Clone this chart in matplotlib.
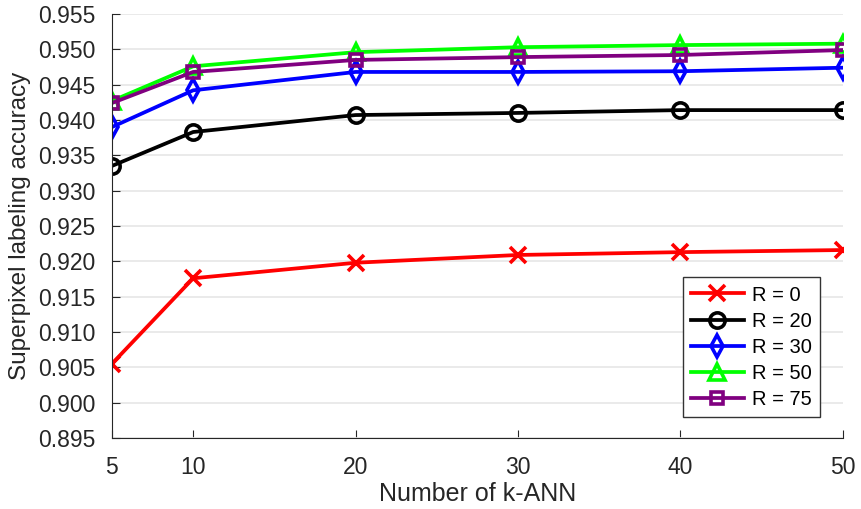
import matplotlib
matplotlib.use("Agg")
import matplotlib.pyplot as plt

plt.rcParams['font.family'] = ['Liberation Sans', 'DejaVu Sans']

# k-ANN values and accuracies per R
k_ann = [5, 10, 20, 30, 40, 50]
acc_r0 = [0.9055, 0.9176, 0.9198, 0.9209, 0.9213, 0.9216]
acc_r20 = [0.9335, 0.9383, 0.9407, 0.9410, 0.9414, 0.9414]
acc_r30 = [0.9390, 0.9442, 0.9468, 0.9468, 0.9469, 0.9474]
acc_r50 = [0.9427, 0.9476, 0.9496, 0.9503, 0.9506, 0.9508]
acc_r75 = [0.9424, 0.9468, 0.9485, 0.9489, 0.9492, 0.9499]

series = [
    ("R = 0", acc_r0, "#ff0000", "x"),
    ("R = 20", acc_r20, "#000000", "o"),
    ("R = 30", acc_r30, "#0000ff", "d"),
    ("R = 50", acc_r50, "#00ff00", "^"),
    ("R = 75", acc_r75, "#800080", "s"),
]

fig = plt.figure(figsize=(8.61, 5.09), dpi=100)
ax = fig.add_axes([0.130, 0.1395, 0.849, 0.833])

for label, vals, col, mk in series:
    ax.plot(k_ann, vals, color=col, lw=2.7, marker=mk, ms=11 if mk != "s" else 9,
            mfc="none", mec=col, mew=2.6, label=label)

ax.set_xlim(5, 50)
ax.set_ylim(0.895, 0.955)
ax.set_xticks(k_ann)
ax.set_yticks([0.895 + 0.005 * i for i in range(13)])
ax.set_yticklabels([f"{0.895 + 0.005 * i:.3f}" for i in range(13)])
ax.tick_params(direction="in", labelsize=16.5, length=6, color="#262626",
               labelcolor="#262626")
ax.tick_params(axis="y", pad=12)
ax.tick_params(axis="x", pad=13)
ax.yaxis.grid(True, color="#e6e6e6", lw=1.2)
ax.set_axisbelow(True)
for s in ["top", "right"]:
    ax.spines[s].set_visible(False)
for s in ["left", "bottom"]:
    ax.spines[s].set_color("#262626")

ax.set_xlabel("Number of k-ANN", fontsize=18, color="#262626", labelpad=2)
ax.set_ylabel("Superpixel labeling accuracy", fontsize=17.5, color="#262626", labelpad=5)

leg = ax.legend(loc="lower right", bbox_to_anchor=(0.968, 0.05), fontsize=14.5,
                fancybox=False, framealpha=1, edgecolor="#333333",
                handlelength=2.6, handletextpad=0.4, borderpad=0.4,
                labelspacing=0.35, borderaxespad=0)
leg.get_frame().set_linewidth(1)

fig.savefig("out.png", dpi=100)
